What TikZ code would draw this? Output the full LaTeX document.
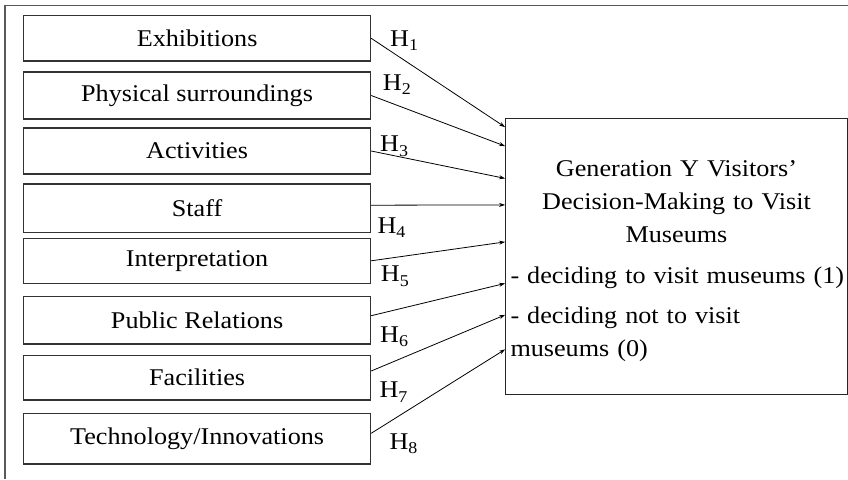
\documentclass[tikz,border=0pt]{standalone}
\usepackage{fontspec}
\setmainfont{Liberation Serif}[FakeStretch=1.09]
\usetikzlibrary{arrows.meta}
\newcommand{\hyp}[1]{H\raisebox{-4.5pt}{\fontsize{16.5}{16.5}\selectfont #1}}

\begin{document}
\begin{tikzpicture}[x=1pt,y=-1pt,
		factor/.style={draw=black!80, line width=1.2pt, minimum width=347pt, inner sep=0pt, font=\fontsize{24}{28}\selectfont},
		goalbox/.style={draw=black!85, line width=1.2pt, minimum width=341.6pt, minimum height=276pt, text width=332pt, inner xsep=4.8pt, align=left, font=\fontsize{24}{33}\selectfont},
		hlabel/.style={anchor=base west, inner sep=0pt, font=\fontsize{24}{28}\selectfont},
		flow/.style={-{Stealth[length=6pt,width=4pt]}, line width=0.8pt}]
		\useasboundingbox (0,0) rectangle (848,479);
		\draw[black!65, line width=1.5pt] (5,479) -- (5,5.7) -- (848,5.7);
		% factors
		\node[factor, minimum height=45.3pt] (f1) at (197.1,38.3) {Exhibitions};
		\node[factor, minimum height=47pt] (f2) at (197.1,95.5) {Physical surroundings};
		\node[factor, minimum height=46pt] (f3) at (197.1,151) {Activities};
		\node[factor, minimum height=48.3pt] (f4) at (197.1,208.2) {Staff};
		\node[factor, minimum height=45pt] (f5) at (197.1,260.8) {Interpretation};
		\node[factor, minimum height=47.3pt] (f6) at (197.1,320.3) {Public Relations};
		\node[factor, minimum height=44.7pt] (f7) at (197.1,377.7) {Facilities};
		\node[factor, minimum height=50.7pt] (f8) at (197.1,438.7) {Technology/Innovations};
		% decision
		\node[goalbox] (goal) at (676.5,256.3) {%
			{\centering\rule{0pt}{26pt}Generation Y Visitors’\\Decision-Making to Visit\\Museums\par}
			\vspace{8pt}
			\mbox{- deciding to visit museums (1)}\par
			\vspace{7pt}
			- deciding not to visit\\museums (0)};
		\coordinate (in1) at ([yshift=-9.4pt]goal.north west);
		\coordinate (in2) at ([yshift=-28.4pt]goal.north west);
		\coordinate (in3) at ([yshift=-60.7pt]goal.north west);
		\coordinate (in4) at ([yshift=-87.2pt]goal.north west);
		\coordinate (in5) at ([yshift=-124.2pt]goal.north west);
		\coordinate (in6) at ([yshift=-165.7pt]goal.north west);
		\coordinate (in7) at ([yshift=-197.2pt]goal.north west);
		\coordinate (in8) at ([yshift=-231.7pt]goal.north west);
		\draw[flow] (f1.east) -- (in1);
		\draw[flow] (f2.east) -- (in2);
		\draw[flow] (f3.east) -- (in3);
		\draw[flow] ([yshift=3pt]f4.east) -- (in4);
		\draw[flow] (f5.east) -- (in5);
		\draw[flow] ([yshift=4.6pt]f6.east) -- (in6);
		\draw[flow] ([yshift=6.7pt]f7.east) -- (in7);
		\draw[flow] ([yshift=5.4pt]f8.east) -- (in8);
		% hypotheses
		\node[hlabel] (h1) at (390,46) {\hyp{1}};
		\node[hlabel] (h2) at (382.7,90) {\hyp{2}};
		\node[hlabel] (h3) at (380,151.7) {\hyp{3}};
		\node[hlabel] (h4) at (377.3,233.3) {\hyp{4}};
		\node[hlabel] (h5) at (380.7,281.7) {\hyp{5}};
		\node[hlabel] (h6) at (380,342.3) {\hyp{6}};
		\node[hlabel] (h7) at (379.3,397.7) {\hyp{7}};
		\node[hlabel] (h8) at (389.3,449.3) {\hyp{8}};
	\end{tikzpicture}
\end{document}
